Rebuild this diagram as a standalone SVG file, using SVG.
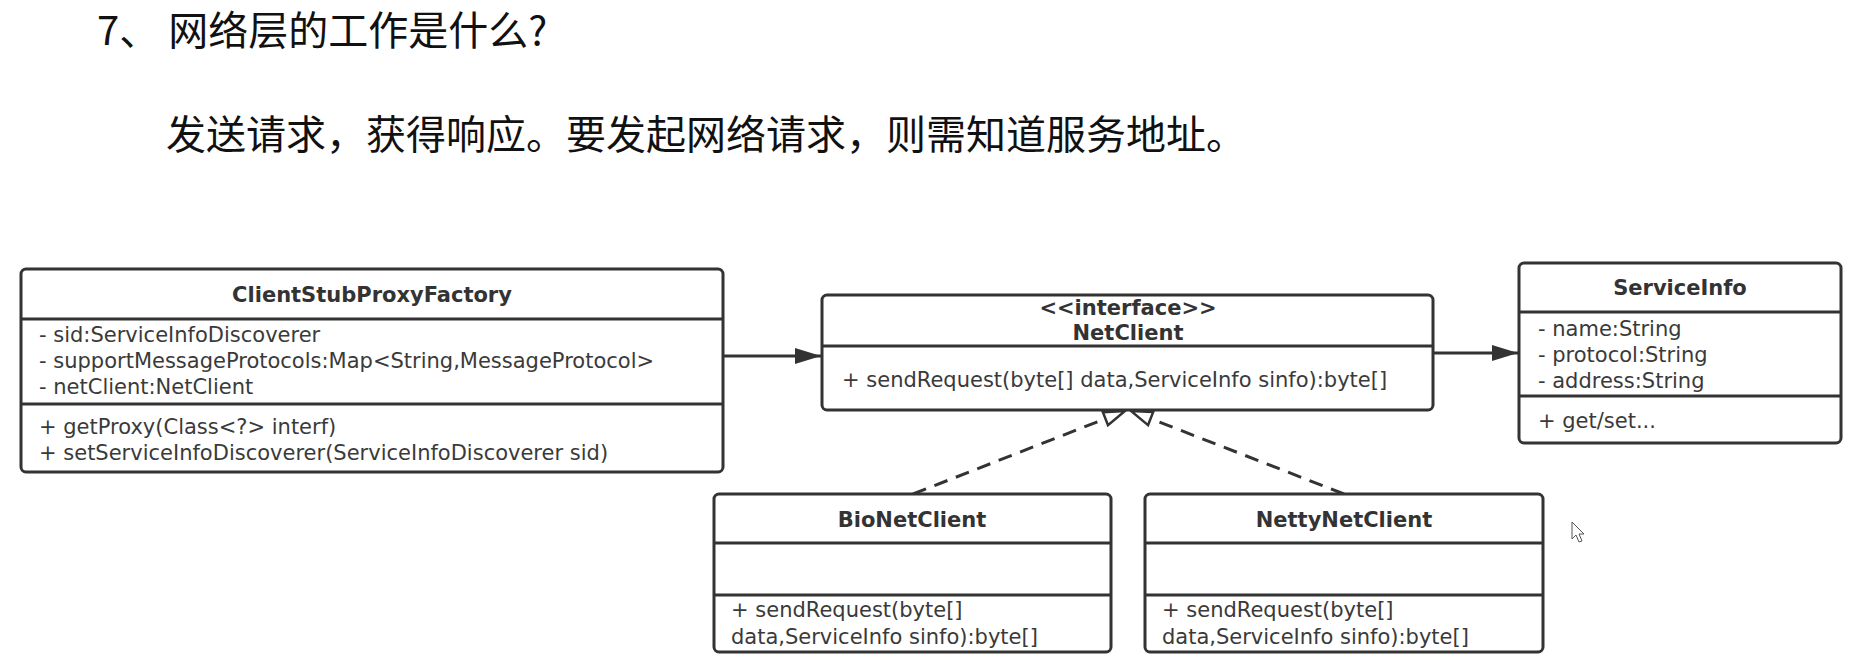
<svg xmlns="http://www.w3.org/2000/svg" width="1851" height="659" viewBox="0 0 1851 659">
<style>
.cjk{font-family:"Noto Sans CJK SC","Noto Sans CJK JP",sans-serif;font-size:40px;fill:#111}
.box{fill:#fff;stroke:#333;stroke-width:3}
.div{stroke:#333;stroke-width:3}
.t{font-family:"DejaVu Sans",sans-serif;font-size:21px;fill:#3a3a3a}
.b{font-family:"DejaVu Sans",sans-serif;font-size:21px;font-weight:bold;fill:#333;text-anchor:middle}
.assoc{fill:none;stroke:#333;stroke-width:3}
.real{fill:none;stroke:#333;stroke-width:3;stroke-dasharray:14 9}
</style>
<defs>
<marker id="filled" markerUnits="userSpaceOnUse" markerWidth="27" markerHeight="18" refX="26" refY="9" orient="auto">
<path d="M0,1 L26,9 L0,17 z" fill="#333"/>
</marker>
<marker id="hollow" markerUnits="userSpaceOnUse" markerWidth="26" markerHeight="20" refX="23" refY="10" orient="auto">
<path d="M2,3 L23,10 L2,17 z" fill="#fff" stroke="#333" stroke-width="2.5" stroke-dasharray="none"/>
</marker>
</defs>
<rect width="1851" height="659" fill="#fff"/>
<text class="cjk" x="97" y="45">7、 网络层的工作是什么?</text>
<text class="cjk" x="166" y="149">发送请求，获得响应。要发起网络请求，则需知道服务地址。</text>
<g id="connectors">
<line class="assoc" x1="723" y1="356" x2="821" y2="356" marker-end="url(#filled)"/>
<line class="assoc" x1="1433" y1="353" x2="1518" y2="353" marker-end="url(#filled)"/>
<line class="real" x1="913" y1="494" x2="1125" y2="411" marker-end="url(#hollow)"/>
<line class="real" x1="1344" y1="494" x2="1131" y2="411" marker-end="url(#hollow)"/>
</g>
<g id="ClientStubProxyFactory">
<rect class="box" x="21" y="269" width="702" height="203" rx="5"/>
<line class="div" x1="21" y1="319" x2="723" y2="319"/>
<line class="div" x1="21" y1="404" x2="723" y2="404"/>
<text class="b" x="372" y="302">ClientStubProxyFactory</text>
<text class="t" x="39" y="342">- sid:ServiceInfoDiscoverer</text>
<text class="t" x="39" y="368">- supportMessageProtocols:Map&lt;String,MessageProtocol&gt;</text>
<text class="t" x="39" y="394">- netClient:NetClient</text>
<text class="t" x="39" y="434">+ getProxy(Class&lt;?&gt; interf)</text>
<text class="t" x="39" y="460">+ setServiceInfoDiscoverer(ServiceInfoDiscoverer sid)</text>
</g>
<g id="NetClient">
<rect class="box" x="822" y="295" width="611" height="115" rx="5"/>
<line class="div" x1="822" y1="346" x2="1433" y2="346"/>
<text class="b" x="1128" y="315">&lt;&lt;interface&gt;&gt;</text>
<text class="b" x="1128" y="340">NetClient</text>
<text class="t" x="842" y="387">+ sendRequest(byte[] data,ServiceInfo sinfo):byte[]</text>
</g>
<g id="ServiceInfo">
<rect class="box" x="1519" y="263" width="322" height="180" rx="5"/>
<line class="div" x1="1519" y1="312" x2="1841" y2="312"/>
<line class="div" x1="1519" y1="396" x2="1841" y2="396"/>
<text class="b" x="1680" y="295">ServiceInfo</text>
<text class="t" x="1538" y="336">- name:String</text>
<text class="t" x="1538" y="362">- protocol:String</text>
<text class="t" x="1538" y="388">- address:String</text>
<text class="t" x="1538" y="428">+ get/set...</text>
</g>
<g id="BioNetClient">
<rect class="box" x="714" y="494" width="397" height="158" rx="5"/>
<line class="div" x1="714" y1="543" x2="1111" y2="543"/>
<line class="div" x1="714" y1="595" x2="1111" y2="595"/>
<text class="b" x="912" y="527">BioNetClient</text>
<text class="t" x="731" y="617">+ sendRequest(byte[]</text>
<text class="t" x="731" y="644">data,ServiceInfo sinfo):byte[]</text>
</g>
<g id="NettyNetClient">
<rect class="box" x="1145" y="494" width="398" height="158" rx="5"/>
<line class="div" x1="1145" y1="543" x2="1543" y2="543"/>
<line class="div" x1="1145" y1="595" x2="1543" y2="595"/>
<text class="b" x="1344" y="527">NettyNetClient</text>
<text class="t" x="1162" y="617">+ sendRequest(byte[]</text>
<text class="t" x="1162" y="644">data,ServiceInfo sinfo):byte[]</text>
</g>
<path d="M1572,522 L1572,539 L1576,535 L1579,542 L1582,541 L1579,534 L1584,534 z" fill="#fff" stroke="#555" stroke-width="1"/>
</svg>
